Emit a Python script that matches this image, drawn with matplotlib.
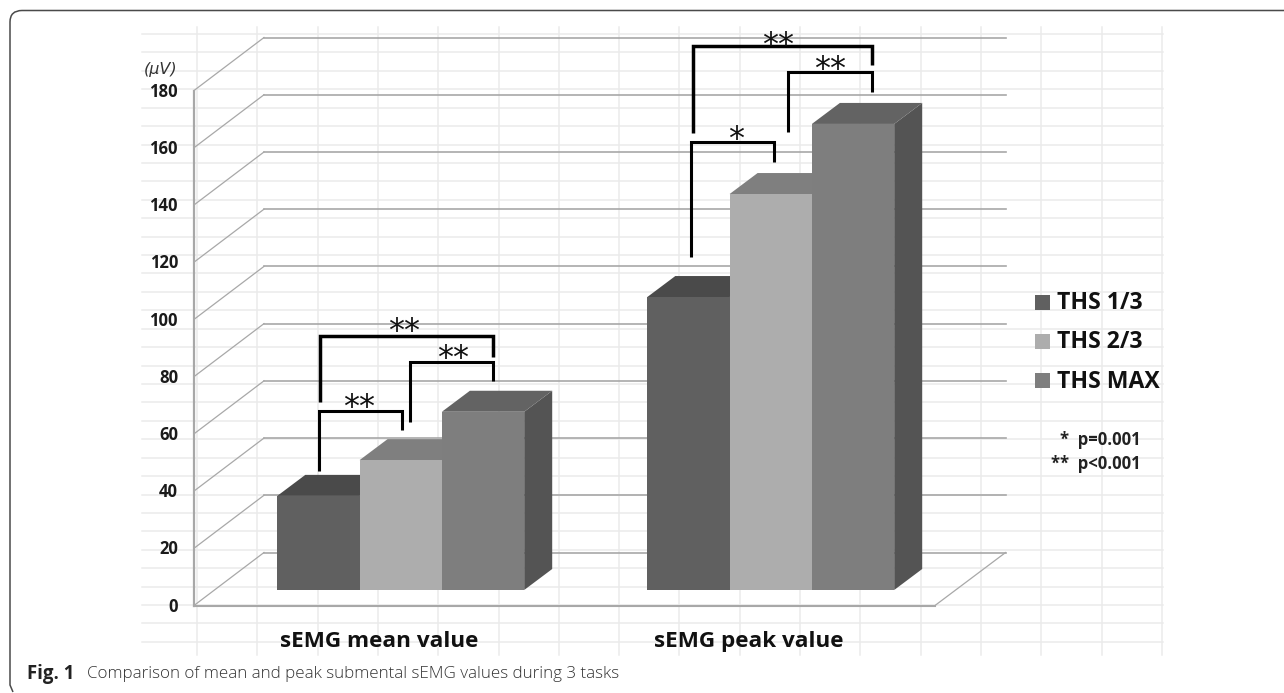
import matplotlib
matplotlib.use("Agg")
import matplotlib.pyplot as plt
from matplotlib.patches import Polygon
from matplotlib.path import Path
from matplotlib.patches import PathPatch

# ---- data ----
groups = ["sEMG mean value", "sEMG peak value"]
series = ["THS 1/3", "THS 2/3", "THS MAX"]
mean_values = [32.9, 45.4, 62.3]
peak_values = [102.4, 138.4, 162.9]
y_ticks = [0, 20, 40, 60, 80, 100, 120, 140, 160, 180]
unit_label = "(μV)"
p_notes = ["*  p=0.001", "**  p<0.001"]
caption_bold = "Fig. 1"
caption_text = "Comparison of mean and peak submental sEMG values during 3 tasks"

# ---- style / layout ----
W, H = 1284, 693
Y0_PX, PX_PER_UNIT = 605.5, 2.861
front_colors = ["#606060", "#adadad", "#7e7e7e"]
top_colors = ["#4a4a4a", "#7f7f7f", "#636363"]
side_color = "#545454"
line_color = "#a8a8a8"
grid_color = "#ebebeb"
FONT = "Open Sans"
group_left = [277.3, 647.3]
bar_w = 82.3
bar_dx, bar_dy_px = 28, 21
base_val = 15.5 / PX_PER_UNIT
wall_dx, wall_dy_px = 70, 53
axis_x, floor_right = 194, 935

fig = plt.figure(figsize=(W / 100, H / 100), dpi=100, facecolor="white")

# pixel-space layer for page furniture
bg = fig.add_axes([0, 0, 1, 1], zorder=0)
bg.set_xlim(0, W)
bg.set_ylim(H, 0)
bg.axis("off")

# value-space layer for the chart itself
ax = fig.add_axes([0, 0, 1, 1], zorder=1)
ax.patch.set_alpha(0)
ax.axis("off")
ax.set_xlim(0, W)
ax.set_ylim((Y0_PX - H) / PX_PER_UNIT, Y0_PX / PX_PER_UNIT)

# overlay for text and brackets that sit over the bars
fg = fig.add_axes([0, 0, 1, 1], zorder=2)
fg.patch.set_alpha(0)
fg.set_xlim(0, W)
fg.set_ylim(H, 0)
fg.axis("off")

# frame
path = Path([(W, 10.5), (22, 10.5), (10, 10.5), (10, 22), (10, 685), (13, 692)],
            [Path.MOVETO, Path.LINETO, Path.CURVE3, Path.CURVE3, Path.LINETO, Path.LINETO])
bg.add_patch(PathPatch(path, fc="none", ec="#4a4a4a", lw=1.1))

# spreadsheet cells behind the chart
for k in range(34):
    y = 34 + 18.42 * k
    bg.plot([142, 1163], [y, y], color=grid_color, lw=1.1, zorder=1)
for k in range(17):
    x = 197 + 60.3 * k
    bg.plot([x, x], [27, 655], color=grid_color, lw=1.1, zorder=1)

# 3D wall and floor
wall_du = wall_dy_px / PX_PER_UNIT
right_wall = axis_x + wall_dx + 741.6
for t in y_ticks:
    ax.plot([axis_x, axis_x + wall_dx], [t, t + wall_du], color=line_color, lw=0.9, zorder=2)
    ax.plot([axis_x + wall_dx, right_wall], [t + wall_du, t + wall_du], color=line_color, lw=1.2, zorder=2)
ax.plot([axis_x, axis_x], [0, y_ticks[-1]], color=line_color, lw=1.6, zorder=2)
ax.plot([axis_x, floor_right], [0, 0], color=line_color, lw=1.5, zorder=2)
ax.plot([floor_right, right_wall], [0, wall_du], color=line_color, lw=0.9, zorder=2)

# bars
du = bar_dy_px / PX_PER_UNIT
for left, vals in zip(group_left, [mean_values, peak_values]):
    z = 3
    for i, v in enumerate(vals):
        x0 = left + i * bar_w
        top = base_val + v
        if i == len(vals) - 1:
            ax.add_patch(Polygon([(x0 + bar_w, base_val), (x0 + bar_w + bar_dx, base_val + du),
                                  (x0 + bar_w + bar_dx, top + du), (x0 + bar_w, top)],
                                 fc=side_color, ec="none", zorder=z))
        ax.add_patch(Polygon([(x0, top), (x0 + bar_dx, top + du),
                              (x0 + bar_w + bar_dx, top + du), (x0 + bar_w, top)],
                             fc=top_colors[i], ec="none", zorder=z))
        ax.bar(x0, v, width=bar_w, bottom=base_val, align="edge",
               color=front_colors[i], edgecolor="none", zorder=z + 0.5)
        z += 1

# tick labels
for t in y_ticks:
    ax.text(178, t - 0.4, str(t), ha="right", va="center", family=FONT,
            fontweight="bold", fontsize=12, color="#1a1a1a", zorder=8)
fg.text(161, 69.5, unit_label, ha="center", va="center", family="DejaVu Sans",
        style="italic", fontsize=11.5, color="#333333", zorder=8)

# group labels
for cx, g in zip([379, 749], groups):
    fg.text(cx, 641.5, g, ha="center", va="center", family=FONT, fontweight="bold",
            fontsize=16.2, color="#111111", zorder=8)

# significance brackets (x0, y_left, y_top, x1, y_right)
brackets = [
    (320.3, 401.7, 336, 493.3, 356.7), (410, 421.7, 362.3, 493.3, 381), (319.3, 470.7, 411, 402.3, 430),
    (692.7, 133.3, 45.7, 871.7, 65), (788.3, 131.7, 72.3, 871.7, 91.7), (691, 256.7, 142.3, 774.3, 161.7),
]
for x0, yl, yt, x1, yr in brackets:
    lw = 2.5 if x1 - x0 > 90 else 2.2
    fg.plot([x0, x0, x1, x1], [yl, yt, yt, yr], color="#000000", lw=lw,
            solid_joinstyle="miter", solid_capstyle="butt", zorder=9)
stars = [(404, 325, "**"), (453, 352.7, "**"), (359, 402, "**"),
         (777.7, 39, "**"), (830, 64, "**"), (735.7, 134, "*")]
for x, y, s in stars:
    fg.text(x, y + 6, s, ha="center", va="center", family="DejaVu Sans",
            fontsize=23, color="#111111", zorder=10)

# legend
for i, (name, y) in enumerate(zip(series, [302, 341.5, 380.5])):
    fg.add_patch(Polygon([(1035, y - 7.5), (1050, y - 7.5), (1050, y + 7.5), (1035, y + 7.5)],
                         fc=front_colors[i], ec="none", zorder=8))
    fg.text(1057, y + 1, name, ha="left", va="center", family=FONT, fontweight="bold",
            fontsize=16.6, color="#111111", zorder=8)
for y, note in zip([440, 464], p_notes):
    fg.text(1141, y, note, ha="right", va="center", family=FONT, fontweight="bold",
            fontsize=12, color="#222222", zorder=8)

# caption
fg.text(27, 673.5, caption_bold, ha="left", va="center", family=FONT, fontweight="bold",
        fontsize=13.4, color="#222222", zorder=8)
fg.text(87, 673.5, caption_text, ha="left", va="center", family=FONT, fontweight="light",
        fontsize=12.27, color="#333333", zorder=8)

fig.savefig("out.png", dpi=100)
